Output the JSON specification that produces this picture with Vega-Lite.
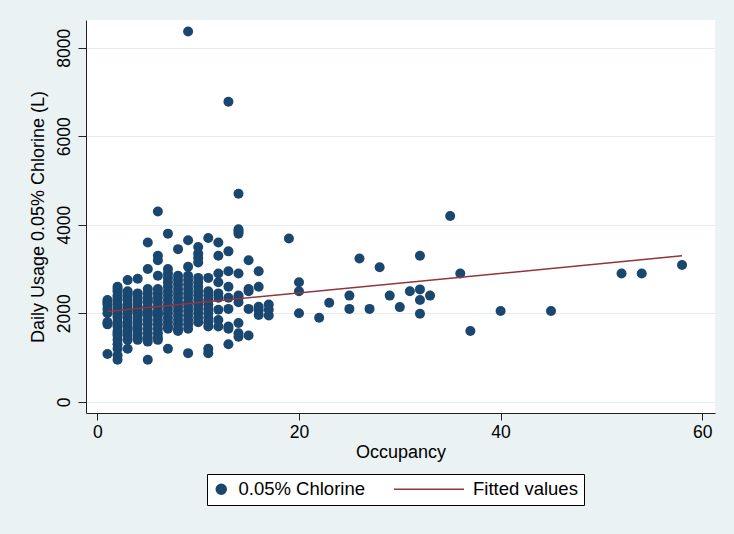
{
"$schema": "https://vega.github.io/schema/vega-lite/v6.json",
"width": 629, "height": 393,
"autosize": {"type": "none"},
"padding": {"left": 86, "top": 20, "right": 19, "bottom": 121},
"background": "#EAF2F3",
"config": {
  "view": {"fill": "white", "stroke": null},
  "font": "Liberation Sans",
  "axis": {"labelFont": "Liberation Sans", "titleFont": "Liberation Sans", "labelColor": "black", "titleColor": "black", "titleFontWeight": "normal", "labelFontSize": 17.5, "titleFontSize": 18, "domainColor": "#222222", "tickColor": "#222222", "domainWidth": 1, "tickWidth": 1},
  "legend": {"symbolStrokeWidth": 1.5, "clipHeight": 18, "symbolOffset": -1, "labelOffset": 8, "columnPadding": 29, "padding": 6, "labelFontSize": 18.5, "labelFont": "Liberation Sans", "labelColor": "black", "strokeColor": "black", "fillColor": "white", "cornerRadius": 0}
},
"datasets": {
  "pts": [
    {"occ":1,"use":2300},{"occ":1,"use":2250},{"occ":1,"use":2200},{"occ":1,"use":2100},{"occ":1,"use":2000},{"occ":1,"use":1800},{"occ":1,"use":1750},{"occ":1,"use":1080},
    {"occ":2,"use":2600},{"occ":2,"use":2550},{"occ":2,"use":2500},{"occ":2,"use":2400},{"occ":2,"use":2350},{"occ":2,"use":2300},{"occ":2,"use":2200},{"occ":2,"use":2150},{"occ":2,"use":2100},{"occ":2,"use":2000},{"occ":2,"use":1950},{"occ":2,"use":1900},{"occ":2,"use":1800},{"occ":2,"use":1750},{"occ":2,"use":1700},{"occ":2,"use":1600},{"occ":2,"use":1550},{"occ":2,"use":1500},{"occ":2,"use":1400},{"occ":2,"use":1300},{"occ":2,"use":1200},{"occ":2,"use":1050},{"occ":2,"use":950},
    {"occ":3,"use":2750},{"occ":3,"use":2500},{"occ":3,"use":2450},{"occ":3,"use":2400},{"occ":3,"use":2300},{"occ":3,"use":2200},{"occ":3,"use":2100},{"occ":3,"use":2050},{"occ":3,"use":2000},{"occ":3,"use":1900},{"occ":3,"use":1800},{"occ":3,"use":1700},{"occ":3,"use":1650},{"occ":3,"use":1600},{"occ":3,"use":1500},{"occ":3,"use":1400},{"occ":3,"use":1200},
    {"occ":4,"use":2780},{"occ":4,"use":2450},{"occ":4,"use":2350},{"occ":4,"use":2250},{"occ":4,"use":2150},{"occ":4,"use":2050},{"occ":4,"use":2000},{"occ":4,"use":1950},{"occ":4,"use":1850},{"occ":4,"use":1750},{"occ":4,"use":1650},{"occ":4,"use":1550},{"occ":4,"use":1450},{"occ":4,"use":1400},
    {"occ":5,"use":3600},{"occ":5,"use":3000},{"occ":5,"use":2550},{"occ":5,"use":2450},{"occ":5,"use":2350},{"occ":5,"use":2300},{"occ":5,"use":2250},{"occ":5,"use":2150},{"occ":5,"use":2050},{"occ":5,"use":2000},{"occ":5,"use":1950},{"occ":5,"use":1850},{"occ":5,"use":1750},{"occ":5,"use":1650},{"occ":5,"use":1550},{"occ":5,"use":1450},{"occ":5,"use":1360},{"occ":5,"use":950},
    {"occ":6,"use":4300},{"occ":6,"use":3300},{"occ":6,"use":3200},{"occ":6,"use":2850},{"occ":6,"use":2550},{"occ":6,"use":2450},{"occ":6,"use":2350},{"occ":6,"use":2250},{"occ":6,"use":2150},{"occ":6,"use":2050},{"occ":6,"use":2000},{"occ":6,"use":1950},{"occ":6,"use":1850},{"occ":6,"use":1750},{"occ":6,"use":1650},{"occ":6,"use":1550},{"occ":6,"use":1450},{"occ":6,"use":1400},
    {"occ":7,"use":3800},{"occ":7,"use":3000},{"occ":7,"use":2900},{"occ":7,"use":2800},{"occ":7,"use":2700},{"occ":7,"use":2600},{"occ":7,"use":2500},{"occ":7,"use":2400},{"occ":7,"use":2300},{"occ":7,"use":2200},{"occ":7,"use":2100},{"occ":7,"use":2000},{"occ":7,"use":1900},{"occ":7,"use":1800},{"occ":7,"use":1700},{"occ":7,"use":1650},{"occ":7,"use":1200},
    {"occ":8,"use":3450},{"occ":8,"use":2850},{"occ":8,"use":2750},{"occ":8,"use":2650},{"occ":8,"use":2550},{"occ":8,"use":2450},{"occ":8,"use":2350},{"occ":8,"use":2250},{"occ":8,"use":2150},{"occ":8,"use":2050},{"occ":8,"use":1950},{"occ":8,"use":1850},{"occ":8,"use":1750},{"occ":8,"use":1650},{"occ":8,"use":1600},
    {"occ":9,"use":8370},{"occ":9,"use":3650},{"occ":9,"use":3050},{"occ":9,"use":2850},{"occ":9,"use":2750},{"occ":9,"use":2650},{"occ":9,"use":2550},{"occ":9,"use":2450},{"occ":9,"use":2350},{"occ":9,"use":2250},{"occ":9,"use":2150},{"occ":9,"use":2050},{"occ":9,"use":1950},{"occ":9,"use":1850},{"occ":9,"use":1750},{"occ":9,"use":1650},{"occ":9,"use":1100},
    {"occ":10,"use":3500},{"occ":10,"use":3350},{"occ":10,"use":3250},{"occ":10,"use":3150},{"occ":10,"use":2800},{"occ":10,"use":2700},{"occ":10,"use":2600},{"occ":10,"use":2500},{"occ":10,"use":2400},{"occ":10,"use":2300},{"occ":10,"use":2200},{"occ":10,"use":2100},{"occ":10,"use":2000},{"occ":10,"use":1900},{"occ":10,"use":1800},
    {"occ":11,"use":3700},{"occ":11,"use":2800},{"occ":11,"use":2500},{"occ":11,"use":2400},{"occ":11,"use":2300},{"occ":11,"use":2200},{"occ":11,"use":2100},{"occ":11,"use":2000},{"occ":11,"use":1900},{"occ":11,"use":1800},{"occ":11,"use":1700},{"occ":11,"use":1200},{"occ":11,"use":1100},
    {"occ":12,"use":3600},{"occ":12,"use":3300},{"occ":12,"use":2900},{"occ":12,"use":2700},{"occ":12,"use":2450},{"occ":12,"use":2350},{"occ":12,"use":2080},{"occ":12,"use":1850},{"occ":12,"use":1700},
    {"occ":13,"use":6780},{"occ":13,"use":3400},{"occ":13,"use":2950},{"occ":13,"use":2600},{"occ":13,"use":2350},{"occ":13,"use":2100},{"occ":13,"use":1700},{"occ":13,"use":1650},{"occ":13,"use":1300},
    {"occ":14,"use":4700},{"occ":14,"use":3900},{"occ":14,"use":3850},{"occ":14,"use":3800},{"occ":14,"use":2900},{"occ":14,"use":2400},{"occ":14,"use":2350},{"occ":14,"use":2250},{"occ":14,"use":1780},{"occ":14,"use":1550},{"occ":14,"use":1470},
    {"occ":15,"use":3200},{"occ":15,"use":2550},{"occ":15,"use":2500},{"occ":15,"use":2100},{"occ":15,"use":1500},
    {"occ":16,"use":2950},{"occ":16,"use":2600},{"occ":16,"use":2150},{"occ":16,"use":2070},{"occ":16,"use":1960},
    {"occ":17,"use":2200},{"occ":17,"use":2080},{"occ":17,"use":1950},
    {"occ":19,"use":3690},
    {"occ":20,"use":2700},{"occ":20,"use":2500},{"occ":20,"use":2000},
    {"occ":22,"use":1900},{"occ":23,"use":2240},
    {"occ":25,"use":2400},{"occ":25,"use":2100},
    {"occ":26,"use":3240},{"occ":27,"use":2100},{"occ":28,"use":3040},{"occ":29,"use":2400},{"occ":30,"use":2140},{"occ":31,"use":2500},
    {"occ":32,"use":3300},{"occ":32,"use":2540},{"occ":32,"use":2300},{"occ":32,"use":1990},
    {"occ":33,"use":2400},{"occ":35,"use":4200},{"occ":36,"use":2900},{"occ":37,"use":1600},
    {"occ":40,"use":2050},{"occ":45,"use":2050},{"occ":52,"use":2900},{"occ":54,"use":2900},{"occ":58,"use":3090}
  ],
  "fit": [{"occ":1,"fit":2040},{"occ":58,"fit":3300}]
},
"layer": [
  {
    "data": {"name": "pts"},
    "mark": {"type": "point", "filled": true, "opacity": 1},
    "encoding": {
      "x": {"field": "occ", "type": "quantitative", "scale": {"domain": [-1.13, 61.27], "nice": false, "zero": false},
        "axis": {"title": "Occupancy", "values": [0, 20, 40, 60], "grid": false, "tickSize": 7, "labelPadding": 3, "titlePadding": 3, "labelFlush": false}},
      "y": {"field": "use", "type": "quantitative", "scale": {"domain": [-253, 8628], "nice": false, "zero": false},
        "axis": {"title": "Daily Usage 0.05% Chlorine (L)", "format": "d", "values": [0, 2000, 4000, 6000, 8000], "grid": true, "gridColor": "#E3ECEF", "gridWidth": 1, "tickSize": 8, "labelAngle": -90, "labelAlign": "center", "labelBaseline": "bottom", "labelPadding": 5, "titlePadding": 8, "labelFlush": false}},
      "color": {"datum": "0.05% Chlorine", "type": "nominal",
        "scale": {"domain": ["0.05% Chlorine", "Fitted values"], "range": ["#1A476F", "#90353B"]},
        "legend": {"title": null, "orient": "none", "legendX": 121, "legendY": 454, "direction": "horizontal"}},
      "shape": {"datum": "0.05% Chlorine", "type": "nominal",
        "scale": {"domain": ["0.05% Chlorine", "Fitted values"], "range": ["circle", "stroke"]},
        "legend": {"title": null, "orient": "none", "legendX": 121, "legendY": 454, "direction": "horizontal"}},
      "size": {"datum": "0.05% Chlorine", "type": "nominal",
        "scale": {"domain": ["0.05% Chlorine", "Fitted values"], "range": [100, 4900]},
        "legend": {"title": null, "orient": "none", "legendX": 121, "legendY": 454, "direction": "horizontal"}}
    }
  },
  {
    "data": {"name": "fit"},
    "mark": {"type": "line", "strokeWidth": 1.5},
    "encoding": {
      "x": {"field": "occ", "type": "quantitative"},
      "y": {"field": "fit", "type": "quantitative"},
      "color": {"datum": "Fitted values", "type": "nominal"}
    }
  }
]
}
